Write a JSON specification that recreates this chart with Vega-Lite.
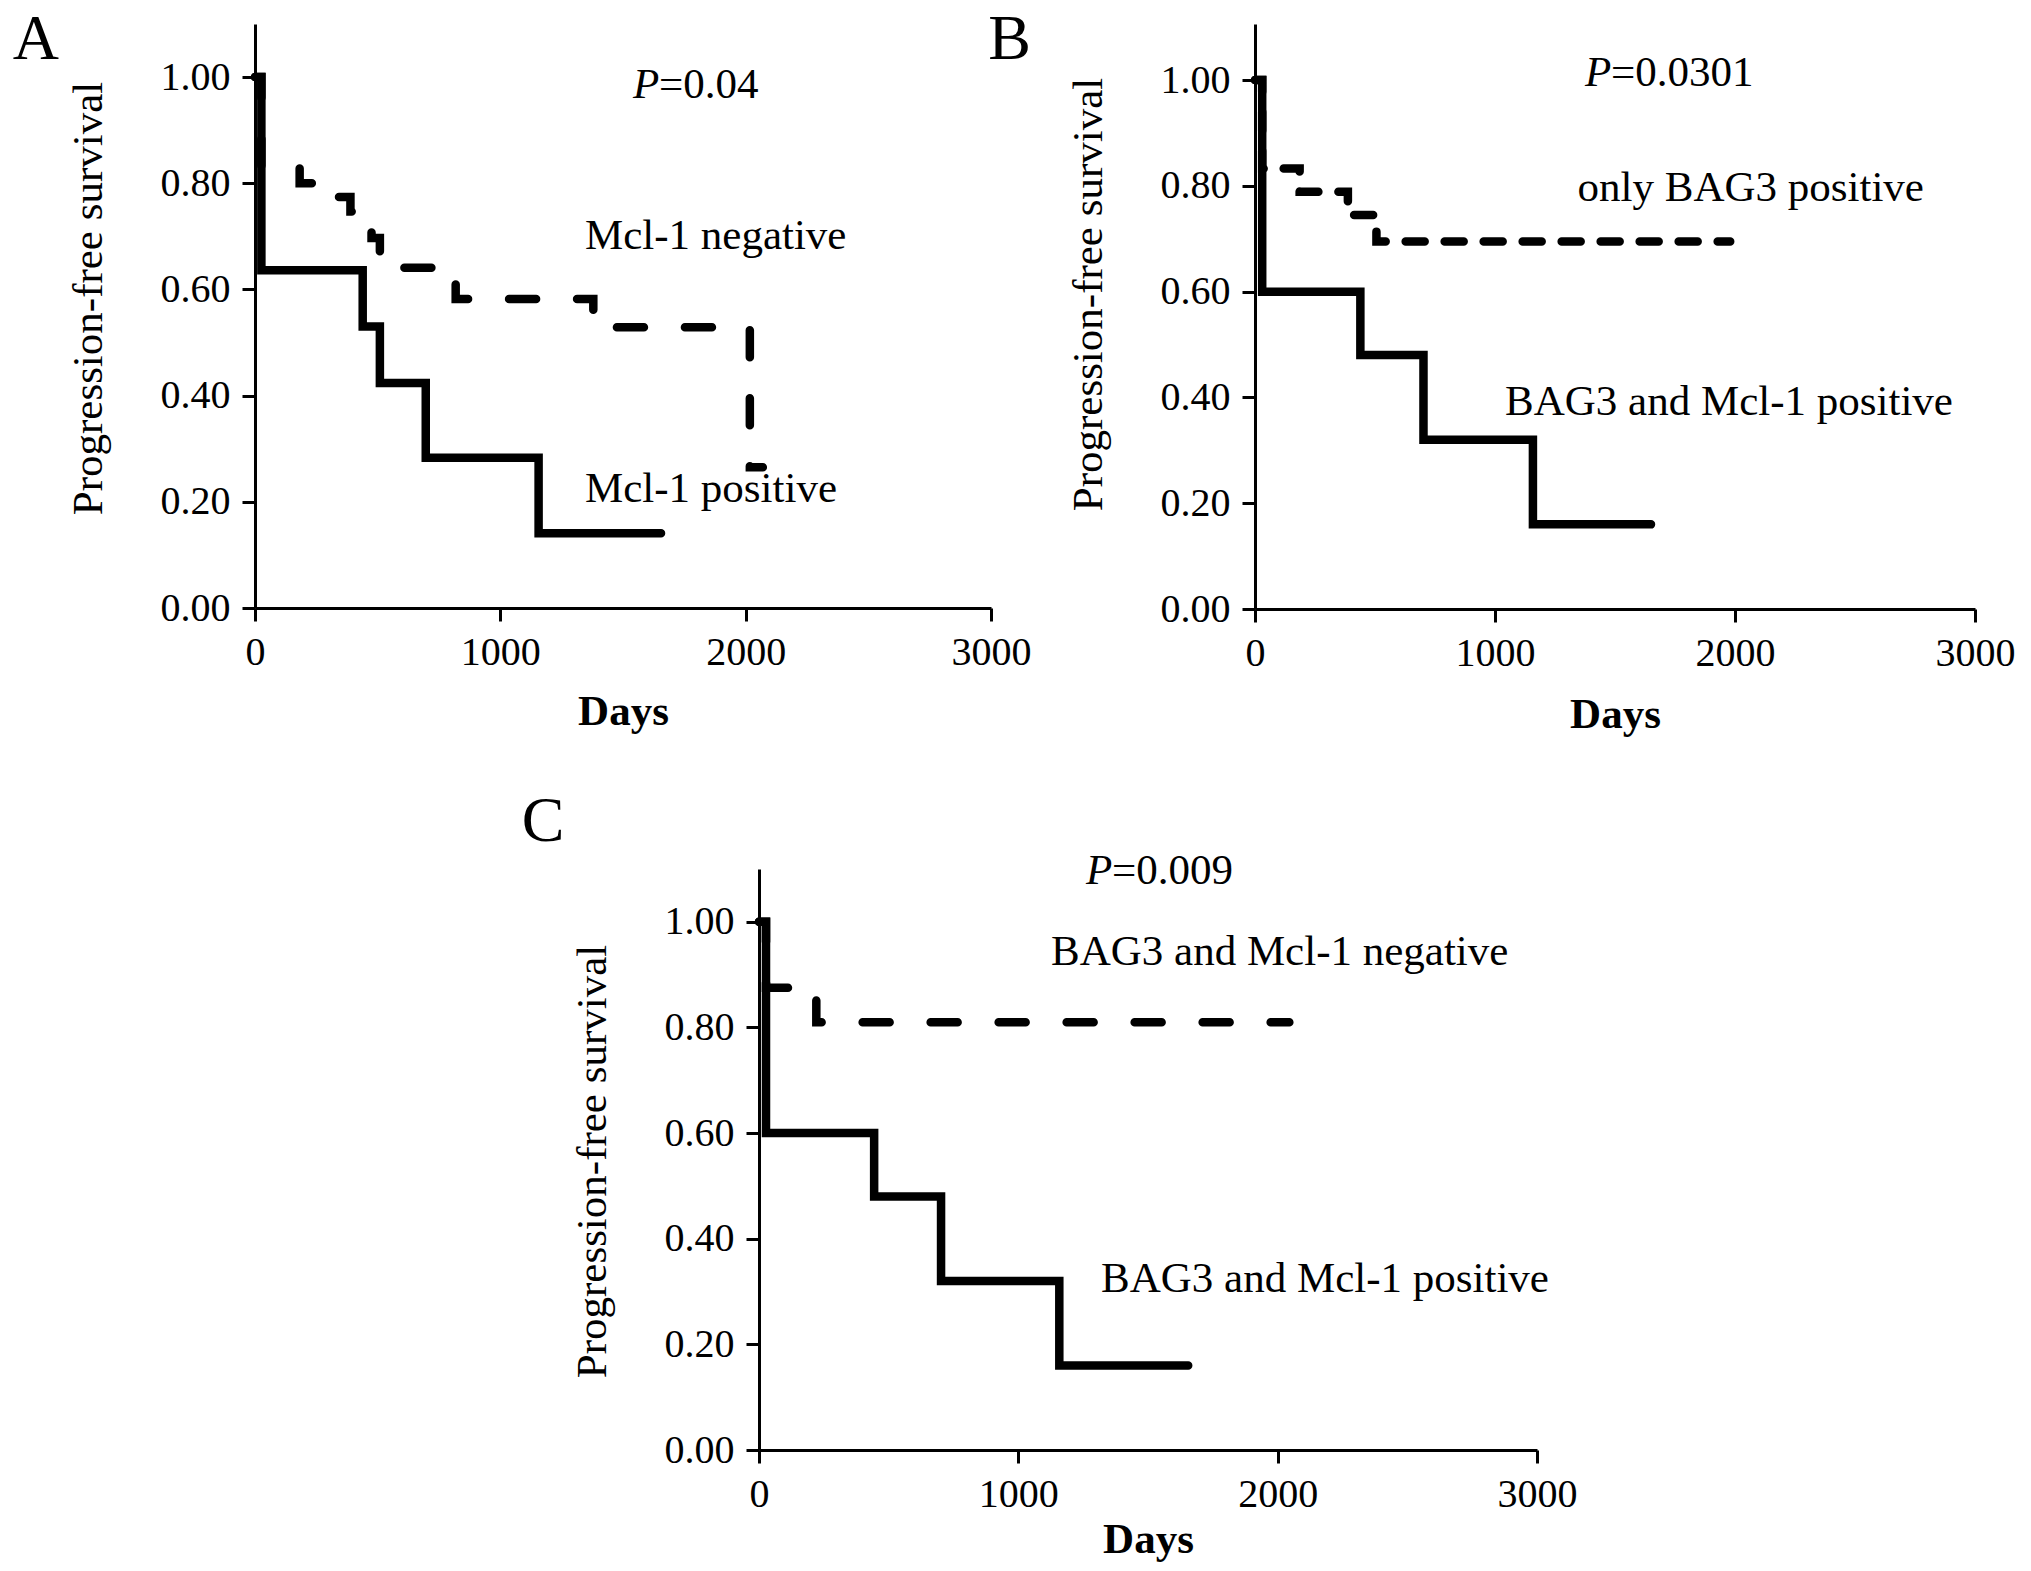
{
  "$schema": "https://vega.github.io/schema/vega-lite/v6.json",
  "background": "white",
  "padding": {"left": 12, "top": 7, "right": 5, "bottom": 5},
  "datasets": {
    "curves": [
      {"panel": "A", "curve": "neg", "days": 0, "pfs": 1},
      {"panel": "A", "curve": "neg", "days": 26, "pfs": 0.828},
      {"panel": "A", "curve": "neg", "days": 182, "pfs": 0.8},
      {"panel": "A", "curve": "neg", "days": 307, "pfs": 0.774},
      {"panel": "A", "curve": "neg", "days": 389, "pfs": 0.747},
      {"panel": "A", "curve": "neg", "days": 475, "pfs": 0.697},
      {"panel": "A", "curve": "neg", "days": 509, "pfs": 0.641},
      {"panel": "A", "curve": "neg", "days": 818, "pfs": 0.582},
      {"panel": "A", "curve": "neg", "days": 1379, "pfs": 0.529},
      {"panel": "A", "curve": "neg", "days": 2017, "pfs": 0.265},
      {"panel": "A", "curve": "neg", "days": 2070, "pfs": 0.265},
      {"panel": "A", "curve": "pos", "days": 0, "pfs": 1},
      {"panel": "A", "curve": "pos", "days": 26, "pfs": 0.636},
      {"panel": "A", "curve": "pos", "days": 439, "pfs": 0.53},
      {"panel": "A", "curve": "pos", "days": 509, "pfs": 0.424},
      {"panel": "A", "curve": "pos", "days": 696, "pfs": 0.283},
      {"panel": "A", "curve": "pos", "days": 1156, "pfs": 0.141},
      {"panel": "A", "curve": "pos", "days": 1655, "pfs": 0.141},
      {"panel": "B", "curve": "neg", "days": 0, "pfs": 1},
      {"panel": "B", "curve": "neg", "days": 30, "pfs": 0.833},
      {"panel": "B", "curve": "neg", "days": 186, "pfs": 0.789},
      {"panel": "B", "curve": "neg", "days": 387, "pfs": 0.745},
      {"panel": "B", "curve": "neg", "days": 506, "pfs": 0.695},
      {"panel": "B", "curve": "neg", "days": 1980, "pfs": 0.695},
      {"panel": "B", "curve": "pos", "days": 0, "pfs": 1},
      {"panel": "B", "curve": "pos", "days": 30, "pfs": 0.6},
      {"panel": "B", "curve": "pos", "days": 439, "pfs": 0.48},
      {"panel": "B", "curve": "pos", "days": 702, "pfs": 0.32},
      {"panel": "B", "curve": "pos", "days": 1158, "pfs": 0.16},
      {"panel": "B", "curve": "pos", "days": 1650, "pfs": 0.16},
      {"panel": "C", "curve": "neg", "days": 0, "pfs": 1},
      {"panel": "C", "curve": "neg", "days": 27, "pfs": 0.875},
      {"panel": "C", "curve": "neg", "days": 221, "pfs": 0.81},
      {"panel": "C", "curve": "neg", "days": 2045, "pfs": 0.81},
      {"panel": "C", "curve": "pos", "days": 0, "pfs": 1},
      {"panel": "C", "curve": "pos", "days": 27, "pfs": 0.6},
      {"panel": "C", "curve": "pos", "days": 444, "pfs": 0.48},
      {"panel": "C", "curve": "pos", "days": 702, "pfs": 0.32},
      {"panel": "C", "curve": "pos", "days": 1158, "pfs": 0.16},
      {"panel": "C", "curve": "pos", "days": 1655, "pfs": 0.16}
    ],
    "notes": [
      {"panel": "A", "days": 1345, "pfs": 0.677, "label": "Mcl-1 negative"},
      {"panel": "A", "days": 1345, "pfs": 0.2, "label": "Mcl-1 positive"},
      {"panel": "B", "days": 1344, "pfs": 0.772, "label": "only BAG3 positive"},
      {"panel": "B", "days": 1042, "pfs": 0.367, "label": "BAG3 and Mcl-1 positive"},
      {"panel": "C", "days": 1126, "pfs": 0.918, "label": "BAG3 and Mcl-1 negative"},
      {"panel": "C", "days": 1319, "pfs": 0.3, "label": "BAG3 and Mcl-1 positive"}
    ],
    "pvals": [
      {"panel": "A", "days": 1541, "pfs": 0.96, "rest": "=0.04"},
      {"panel": "B", "days": 1375, "pfs": 0.988, "rest": "=0.0301"},
      {"panel": "C", "days": 1261, "pfs": 1.071, "rest": "=0.009"}
    ],
    "letters": [
      {"panel": "A", "days": -893, "pfs": 1.034, "label": "A"},
      {"panel": "B", "days": -1023, "pfs": 1.04, "label": "B"},
      {"panel": "C", "days": -833, "pfs": 1.153, "label": "C"}
    ]
  },
  "columns": 2,
  "align": "none",
  "bounds": "flush",
  "spacing": {"row": 260, "column": 264},
  "concat": [
    {
      "width": 736,
      "height": 584,
      "layer": [
        {
          "data": {"name": "curves"},
          "transform": [{"filter": "datum.panel == 'A' && datum.curve == 'neg'"}],
          "mark": {"type": "line", "interpolate": "step-after", "color": "black", "strokeWidth": 8.5, "strokeCap": "round", "strokeDash": [27, 41]},
          "encoding": {
            "x": {"field": "days", "type": "quantitative", "scale": {"domain": [0, 3000], "nice": false, "zero": false}, "axis": {"values": [0, 1000, 2000, 3000], "format": "d", "title": "Days", "titlePadding": 18}},
            "y": {"field": "pfs", "type": "quantitative", "scale": {"domain": [0, 1.1], "nice": false}, "axis": {"values": [0, 0.2, 0.4, 0.6, 0.8, 1], "format": ".2f", "title": "Progression-free survival", "titleY": 274}}
          }
        },
        {
          "data": {"name": "curves"},
          "transform": [{"filter": "datum.panel == 'A' && datum.curve == 'pos'"}],
          "mark": {"type": "line", "interpolate": "step-after", "color": "black", "strokeWidth": 8.5, "strokeCap": "round"},
          "encoding": {"x": {"field": "days", "type": "quantitative"}, "y": {"field": "pfs", "type": "quantitative"}}
        },
        {
          "data": {"name": "notes"},
          "transform": [{"filter": "datum.panel == 'A'"}],
          "mark": {"type": "text"},
          "encoding": {"x": {"field": "days", "type": "quantitative"}, "y": {"field": "pfs", "type": "quantitative"}, "text": {"field": "label"}}
        },
        {
          "data": {"name": "pvals"},
          "transform": [{"filter": "datum.panel == 'A'"}],
          "mark": {"type": "text", "fontStyle": "italic"},
          "encoding": {"x": {"field": "days", "type": "quantitative"}, "y": {"field": "pfs", "type": "quantitative"}, "text": {"value": "P"}}
        },
        {
          "data": {"name": "pvals"},
          "transform": [{"filter": "datum.panel == 'A'"}],
          "mark": {"type": "text", "dx": 26},
          "encoding": {"x": {"field": "days", "type": "quantitative"}, "y": {"field": "pfs", "type": "quantitative"}, "text": {"field": "rest"}}
        },
        {
          "data": {"name": "letters"},
          "transform": [{"filter": "datum.panel == 'A'"}],
          "mark": {"type": "text", "fontSize": 64, "align": "center"},
          "encoding": {"x": {"field": "days", "type": "quantitative"}, "y": {"field": "pfs", "type": "quantitative"}, "text": {"field": "label"}}
        }
      ]
    },
    {
      "width": 720,
      "height": 585,
      "layer": [
        {
          "data": {"name": "curves"},
          "transform": [{"filter": "datum.panel == 'B' && datum.curve == 'neg'"}],
          "mark": {"type": "line", "interpolate": "step-after", "color": "black", "strokeWidth": 8.5, "strokeCap": "round", "strokeDash": [19, 20]},
          "encoding": {
            "x": {"field": "days", "type": "quantitative", "scale": {"domain": [0, 3000], "nice": false, "zero": false}, "axis": {"values": [0, 1000, 2000, 3000], "format": "d", "title": "Days", "titlePadding": 20}},
            "y": {"field": "pfs", "type": "quantitative", "scale": {"domain": [0, 1.106], "nice": false}, "axis": {"values": [0, 0.2, 0.4, 0.6, 0.8, 1], "format": ".2f", "title": "Progression-free survival", "titleY": 270}}
          }
        },
        {
          "data": {"name": "curves"},
          "transform": [{"filter": "datum.panel == 'B' && datum.curve == 'pos'"}],
          "mark": {"type": "line", "interpolate": "step-after", "color": "black", "strokeWidth": 8.5, "strokeCap": "round"},
          "encoding": {"x": {"field": "days", "type": "quantitative"}, "y": {"field": "pfs", "type": "quantitative"}}
        },
        {
          "data": {"name": "notes"},
          "transform": [{"filter": "datum.panel == 'B'"}],
          "mark": {"type": "text"},
          "encoding": {"x": {"field": "days", "type": "quantitative"}, "y": {"field": "pfs", "type": "quantitative"}, "text": {"field": "label"}}
        },
        {
          "data": {"name": "pvals"},
          "transform": [{"filter": "datum.panel == 'B'"}],
          "mark": {"type": "text", "fontStyle": "italic"},
          "encoding": {"x": {"field": "days", "type": "quantitative"}, "y": {"field": "pfs", "type": "quantitative"}, "text": {"value": "P"}}
        },
        {
          "data": {"name": "pvals"},
          "transform": [{"filter": "datum.panel == 'B'"}],
          "mark": {"type": "text", "dx": 26},
          "encoding": {"x": {"field": "days", "type": "quantitative"}, "y": {"field": "pfs", "type": "quantitative"}, "text": {"field": "rest"}}
        },
        {
          "data": {"name": "letters"},
          "transform": [{"filter": "datum.panel == 'B'"}],
          "mark": {"type": "text", "fontSize": 64, "align": "center"},
          "encoding": {"x": {"field": "days", "type": "quantitative"}, "y": {"field": "pfs", "type": "quantitative"}, "text": {"field": "label"}}
        }
      ]
    },
    {
      "width": 736,
      "height": 581,
      "layer": [
        {
          "data": {"name": "curves"},
          "transform": [{"filter": "datum.panel == 'C' && datum.curve == 'neg'"}],
          "mark": {"type": "line", "interpolate": "step-after", "color": "black", "strokeWidth": 8.5, "strokeCap": "round", "strokeDash": [27, 41]},
          "encoding": {
            "x": {"field": "days", "type": "quantitative", "scale": {"domain": [0, 3000], "nice": false, "zero": false, "range": [504, 1282]}, "axis": {"values": [0, 1000, 2000, 3000], "format": "d", "title": "Days", "titlePadding": 4}},
            "y": {"field": "pfs", "type": "quantitative", "scale": {"domain": [0, 1.1], "nice": false}, "axis": {"values": [0, 0.2, 0.4, 0.6, 0.8, 1], "format": ".2f", "title": "Progression-free survival", "titleY": 292, "offset": -504}}
          }
        },
        {
          "data": {"name": "curves"},
          "transform": [{"filter": "datum.panel == 'C' && datum.curve == 'pos'"}],
          "mark": {"type": "line", "interpolate": "step-after", "color": "black", "strokeWidth": 8.5, "strokeCap": "round"},
          "encoding": {"x": {"field": "days", "type": "quantitative"}, "y": {"field": "pfs", "type": "quantitative"}}
        },
        {
          "data": {"name": "notes"},
          "transform": [{"filter": "datum.panel == 'C'"}],
          "mark": {"type": "text"},
          "encoding": {"x": {"field": "days", "type": "quantitative"}, "y": {"field": "pfs", "type": "quantitative"}, "text": {"field": "label"}}
        },
        {
          "data": {"name": "pvals"},
          "transform": [{"filter": "datum.panel == 'C'"}],
          "mark": {"type": "text", "fontStyle": "italic"},
          "encoding": {"x": {"field": "days", "type": "quantitative"}, "y": {"field": "pfs", "type": "quantitative"}, "text": {"value": "P"}}
        },
        {
          "data": {"name": "pvals"},
          "transform": [{"filter": "datum.panel == 'C'"}],
          "mark": {"type": "text", "dx": 26},
          "encoding": {"x": {"field": "days", "type": "quantitative"}, "y": {"field": "pfs", "type": "quantitative"}, "text": {"field": "rest"}}
        },
        {
          "data": {"name": "letters"},
          "transform": [{"filter": "datum.panel == 'C'"}],
          "mark": {"type": "text", "fontSize": 64, "align": "center"},
          "encoding": {"x": {"field": "days", "type": "quantitative"}, "y": {"field": "pfs", "type": "quantitative"}, "text": {"field": "label"}}
        }
      ]
    }
  ],
  "config": {
    "view": {"stroke": null},
    "font": "Liberation Serif",
    "axis": {
      "grid": false,
      "domainColor": "black",
      "domainWidth": 3,
      "tickColor": "black",
      "tickWidth": 3,
      "tickSize": 13,
      "labelFont": "Liberation Serif",
      "labelFontSize": 40,
      "labelColor": "black",
      "labelFlush": false,
      "labelOverlap": false,
      "titleFont": "Liberation Serif",
      "titleFontSize": 43,
      "titleColor": "black",
      "titleFontWeight": "normal"
    },
    "axisX": {"labelPadding": 11, "titleFontWeight": "bold"},
    "axisY": {"labelPadding": 12, "titlePadding": 50},
    "text": {"font": "Liberation Serif", "fontSize": 43, "color": "black", "align": "left", "baseline": "alphabetic"}
  }
}
